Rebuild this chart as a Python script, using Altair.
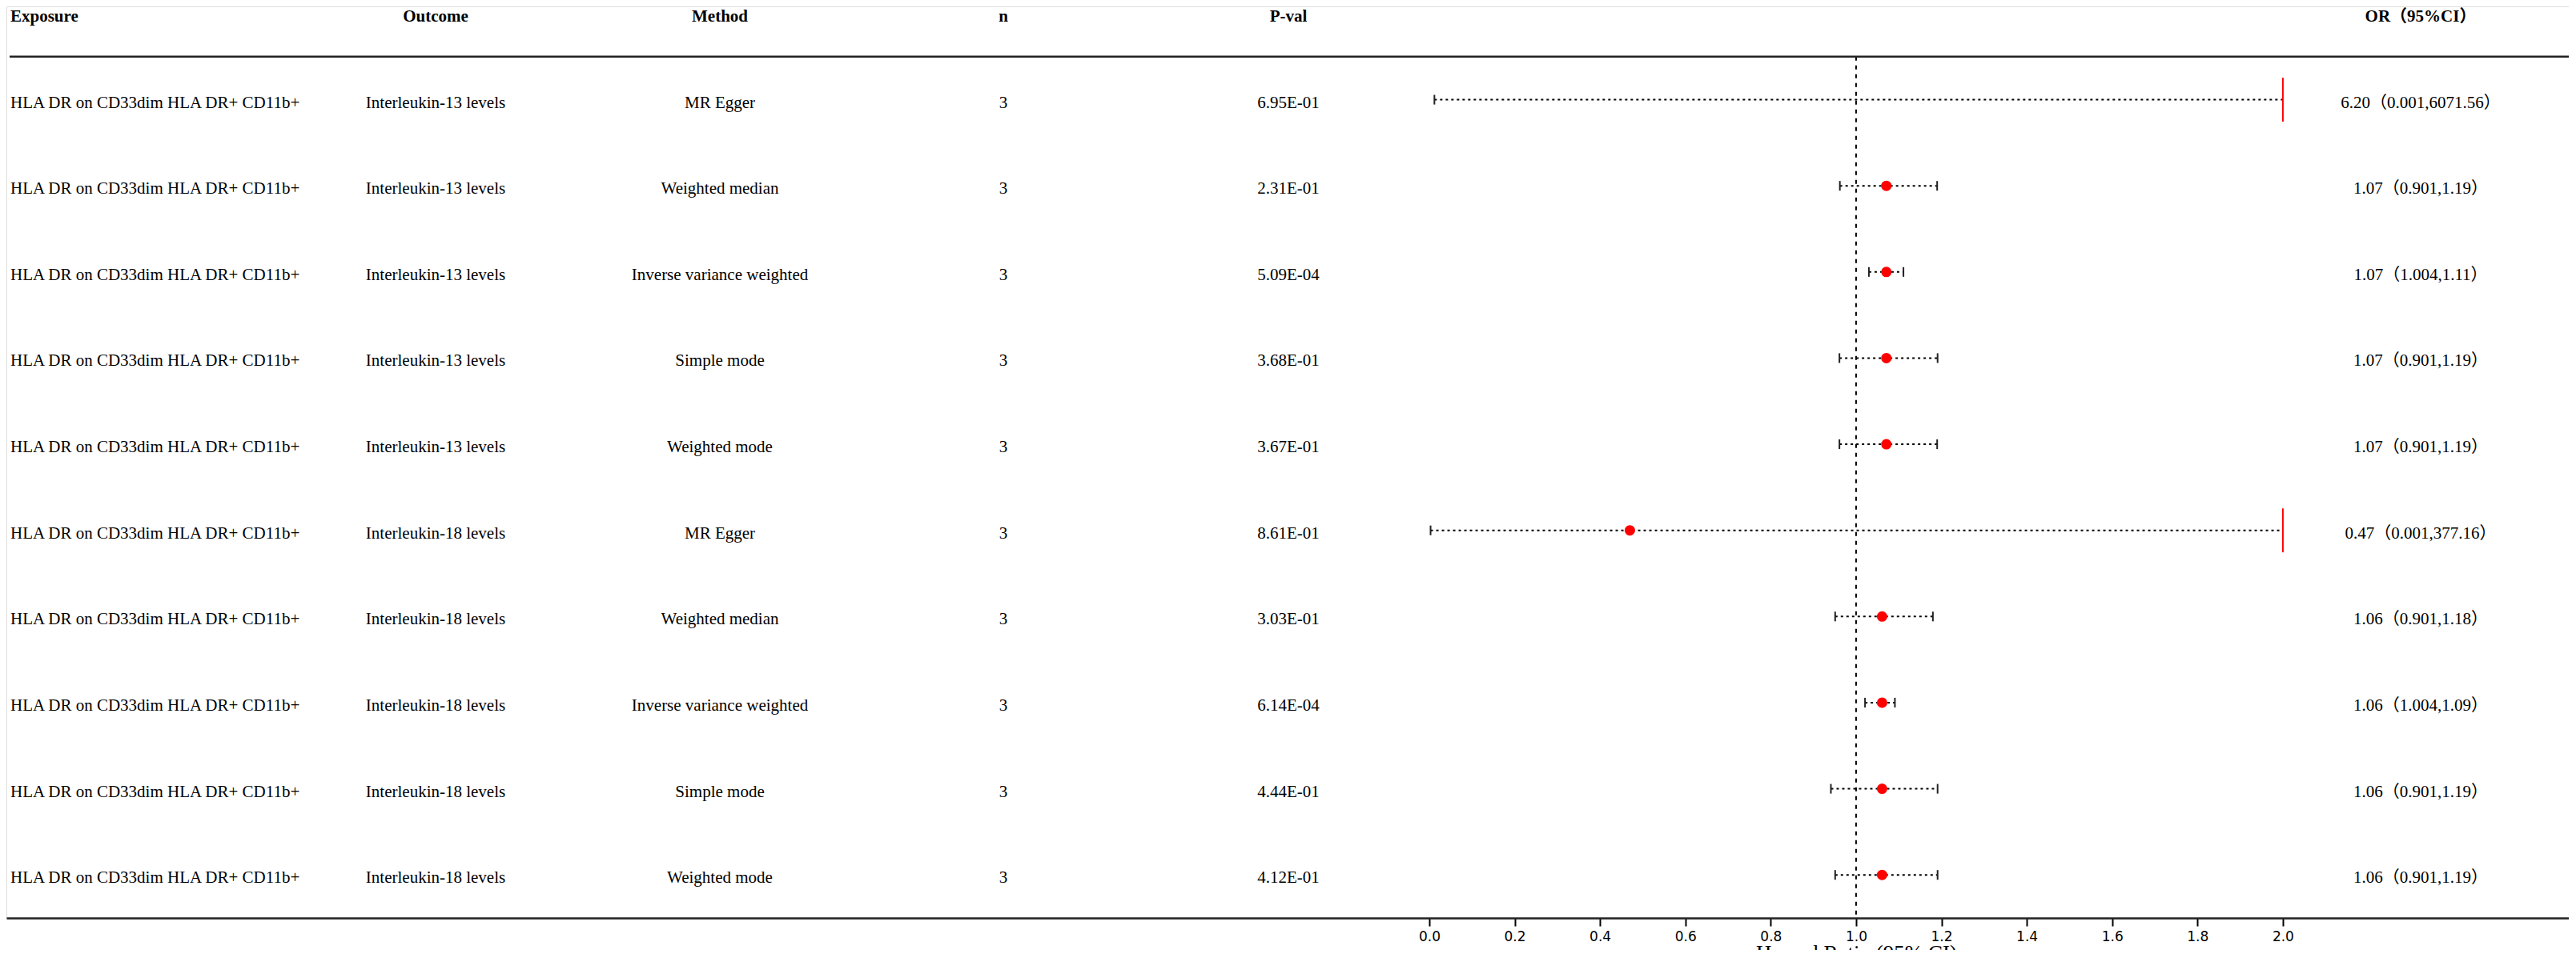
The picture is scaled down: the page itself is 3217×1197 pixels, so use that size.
import altair as alt
import pandas as pd

# ---------------- data ----------------
exposure = ["HLA DR on CD33dim HLA DR+ CD11b+"] * 10
outcome = ["Interleukin-13 levels"] * 5 + ["Interleukin-18 levels"] * 5
method = ["MR Egger", "Weighted median", "Inverse variance weighted", "Simple mode", "Weighted mode",
          "MR Egger", "Weighted median", "Inverse variance weighted", "Simple mode", "Weighted mode"]
n_snp = ["3"] * 10
pval = ["6.95E-01", "2.31E-01", "5.09E-04", "3.68E-01", "3.67E-01",
        "8.61E-01", "3.03E-01", "6.14E-04", "4.44E-01", "4.12E-01"]
or_text = ["6.20（0.001,6071.56）", "1.07（0.901,1.19）", "1.07（1.004,1.11）", "1.07（0.901,1.19）",
           "1.07（0.901,1.19）", "0.47（0.001,377.16）", "1.06（0.901,1.18）", "1.06（1.004,1.09）",
           "1.06（0.901,1.19）", "1.06（0.901,1.19）"]
est = [6.20, 1.071, 1.071, 1.071, 1.071, 0.47, 1.061, 1.061, 1.061, 1.061]
lower = [0.012, 0.962, 1.030, 0.961, 0.961, 0.003, 0.951, 1.021, 0.941, 0.951]
upper = [6071.56, 1.19, 1.111, 1.191, 1.19, 377.16, 1.18, 1.091, 1.191, 1.191]
headers = ["Exposure", "Outcome", "Method", "n", "P-val", "OR（95%CI）"]
x_ticks = [0.0, 0.2, 0.4, 0.6, 0.8, 1.0, 1.2, 1.4, 1.6, 1.8, 2.0]
ref_value = 1.0
x_limit = 2.0
axis_title = "Hazard Ratio (95% CI)"

# ---------------- tables ----------------
df = pd.DataFrame({
    "row": list(range(len(exposure))),
    "exposure": exposure, "outcome": outcome, "method": method, "n": n_snp,
    "pval": pval, "or_text": or_text, "est": est, "lower": lower, "upper": upper,
})
hdr = pd.DataFrame({"row": [-0.96], **{f"h{i}": [h] for i, h in enumerate(headers)}})
ref = pd.DataFrame({"x": [ref_value], "y0": [-0.5], "y1": [9.5]})
top = pd.DataFrame({"y": [-0.5]})

W, H = 3200, 1139
xs = alt.Scale(domain=[-3.334, 2.670], nice=False, zero=False)
ys = alt.Scale(domain=[-1.083, 9.5], reverse=True, nice=False, zero=False)

base = alt.Chart(df)
CAP = 0.056
CLIP = 0.255

x_axis = alt.Axis(values=x_ticks, format=".1f", grid=False, tickSize=10, tickWidth=2,
                  tickColor="black", domainColor="#222222", domainWidth=2.5,
                  labelFont="DejaVu Sans", labelFontSize=17, labelColor="black", labelPadding=5,
                  title=axis_title, titleFont="Liberation Serif", titleFontSize=27,
                  titleFontWeight="normal", titleColor="black", titlePadding=0,
                  titleX=2310, titleAlign="center")


def X(field):
    return alt.X(field, scale=xs, axis=x_axis, title=axis_title)


def Y(field):
    return alt.Y(field, scale=ys, axis=None)


ref_layer = alt.Chart(ref).mark_rule(strokeDash=[5, 6], strokeWidth=2, color="black").encode(
    x=X("x:Q"), y=Y("y0:Q"), y2="y1:Q")

top_layer = alt.Chart(top).mark_rule(strokeWidth=2.5, color="#222222").encode(
    x=alt.value(4), x2=alt.value(W), y=Y("y:Q"))

ci_layer = base.transform_calculate(hi="min(datum.upper, %f)" % x_limit).mark_rule(
    strokeDash=[3, 4], strokeWidth=2, color="black").encode(
    x=X("lower:Q"), x2="hi:Q", y=Y("row:Q"))

lcap = base.transform_calculate(a="datum.row-%f" % CAP, b="datum.row+%f" % CAP).mark_rule(
    strokeWidth=2, color="#222222").encode(
    x=X("lower:Q"), y=Y("a:Q"), y2="b:Q")

rcap = base.transform_filter("datum.upper <= %f" % x_limit).transform_calculate(
    a="datum.row-%f" % CAP, b="datum.row+%f" % CAP).mark_rule(
    strokeWidth=2, color="#222222").encode(
    x=X("upper:Q"), y=Y("a:Q"), y2="b:Q")

clip_layer = base.transform_filter("datum.upper > %f" % x_limit).transform_calculate(
    lim=str(x_limit), a="datum.row-%f" % CLIP, b="datum.row+%f" % CLIP).mark_rule(
    strokeWidth=2, color="#ff0000").encode(
    x=X("lim:Q"), y=Y("a:Q"), y2="b:Q")

pts = base.transform_filter("datum.est <= %f" % x_limit).mark_circle(
    size=170, color="#ff0000", opacity=1).encode(
    x=X("est:Q"), y=Y("row:Q"))

FONT = "Liberation Serif, Noto Sans CJK SC"
cols = [("exposure", 5, "left"), ("outcome", 536, "center"), ("method", 891, "center"),
        ("n", 1245, "center"), ("pval", 1601, "center"), ("or_text", 3015, "center")]

texts = []
for i, (field, px, al) in enumerate(cols):
    texts.append(base.mark_text(font=FONT, fontSize=21, align=al, baseline="middle", dy=4,
                                color="black").encode(
        x=alt.value(px), y=Y("row:Q"), text=f"{field}:N"))
    texts.append(alt.Chart(hdr).mark_text(font=FONT, fontSize=21, fontWeight="bold", align=al,
                                          baseline="middle", color="black").encode(
        x=alt.value(px), y=Y("row:Q"), text=f"h{i}:N"))

chart = alt.layer(ref_layer, top_layer, ci_layer, lcap, rcap, clip_layer, pts, *texts).properties(
    width=W, height=H,
    autosize=alt.AutoSizeParams(type="none"),
    padding={"left": 0, "top": 0, "right": 0, "bottom": 40},
).configure_view(stroke=None).configure(background="white")

chart.save("out.html", embed_options={"renderer": "svg", "actions": False})
